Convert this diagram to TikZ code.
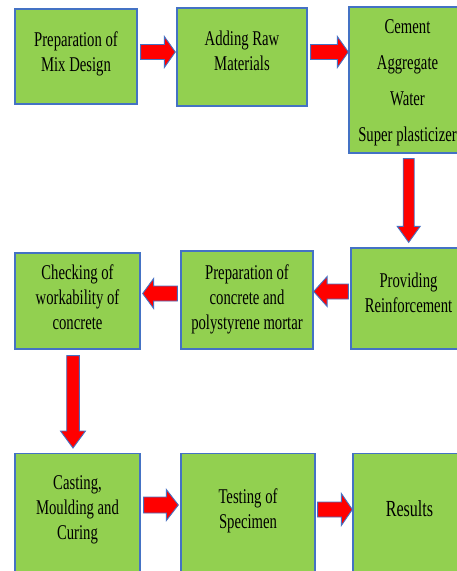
\documentclass[tikz,border=0pt]{standalone}
\usepackage{fontspec}
\newfontfamily\boxfont[FakeStretch=0.70]{Liberation Serif}
\usetikzlibrary{calc}
\definecolor{boxgreen}{RGB}{146,208,80}
\definecolor{boxblue}{RGB}{68,114,196}

\begin{document}
\begin{tikzpicture}[x=1pt,y=-1pt,
   box/.style={draw=boxblue,fill=boxgreen,line width=1.3pt,align=center,inner sep=0pt,
      font=\boxfont\fontsize{21}{25}\selectfont},
   fat/.style n args={3}{fill=red,draw=boxblue,line width=0.9pt,
      to path={($(\tikztotarget)!#3!(\tikztostart)$) coordinate (hb)
         ($(\tikztostart)!#1!90:(\tikztotarget)$) -- ($(hb)!#1!-90:(\tikztostart)$)
         -- ($(hb)!#2!-90:(\tikztostart)$) -- (\tikztotarget)
         -- ($(hb)!#2!90:(\tikztostart)$) -- ($(hb)!#1!90:(\tikztostart)$)
         -- ($(\tikztostart)!#1!-90:(\tikztotarget)$) -- cycle}}]
   \useasboundingbox (0,0) rectangle (457,571);

   \node[box,minimum width=122,minimum height=95] (mix) at (76,56.5) {Preparation of\\Mix Design\\[-16pt]};
   \node[box,minimum width=130,minimum height=98] (raw) at (242,57) {Adding Raw\\Materials\\[-12pt]};
   \node[box,minimum width=117,minimum height=146] (ingr) at (407.5,80)
      {Cement\\[11pt]Aggregate\\[11pt]Water\\[11pt]Super plasticizer\\[-26pt]};

   \node[box,minimum width=115,minimum height=101] (reinf) at (408.5,298.5) {Providing\\Reinforcement\\[-14pt]};
   \node[box,minimum width=132,minimum height=98] (conc) at (247,300)
      {Preparation of\\concrete and\\polystyrene mortar\\[-20pt]};
   \node[box,minimum width=125,minimum height=96] (work) at (77.5,301)
      {Checking of\\workability of\\concrete\\[-18pt]};

   \node[box,minimum width=125,minimum height=128,anchor=north] (cast) at (77.5,453)
      {Casting,\\Moulding and\\Curing\\[-4pt]};
   \node[box,minimum width=134,minimum height=128,anchor=north] (test) at (248,453) {Testing of\\Specimen\\[-6pt]};
   \node[box,minimum width=113,minimum height=128,anchor=north,
      font=\boxfont\fontsize{23}{27}\selectfont] (res) at (409.5,453) {Results\\[-8pt]};

   \path[fat={7.5pt}{15.5pt}{11pt}] ([shift={(3,-4.5)}]mix.east) to ([shift={(-1,-5)}]raw.west);
   \path[fat={7.5pt}{15.5pt}{11pt}] ([shift={(3,-5)}]raw.east) to ([shift={(0,-28)}]ingr.west);
   \path[fat={5.5pt}{11.5pt}{16pt}] ([shift={(1.2,5)}]ingr.south) to ([shift={(0.2,-5)}]reinf.north);
   \path[fat={7.5pt}{15pt}{13.5pt}] ([shift={(-2,-7)}]reinf.west) to ([shift={(0,-8.5)}]conc.east);
   \path[fat={7.5pt}{15pt}{11pt}] ([shift={(-3,-6.5)}]conc.west) to ([shift={(2,-7.5)}]work.east);
   \path[fat={6.3pt}{12.5pt}{17pt}] ([shift={(-4.5,6)}]work.south) to ([shift={(-4.5,-5)}]cast.north);
   \path[fat={8pt}{15.5pt}{12pt}] ([shift={(3,52)}]cast.north east) to ([shift={(-2,52)}]test.north west);
   \path[fat={7.5pt}{16pt}{11pt}] ([shift={(2,56.5)}]test.north east) to ([shift={(0,56.5)}]res.north west);

\end{tikzpicture}
\end{document}
